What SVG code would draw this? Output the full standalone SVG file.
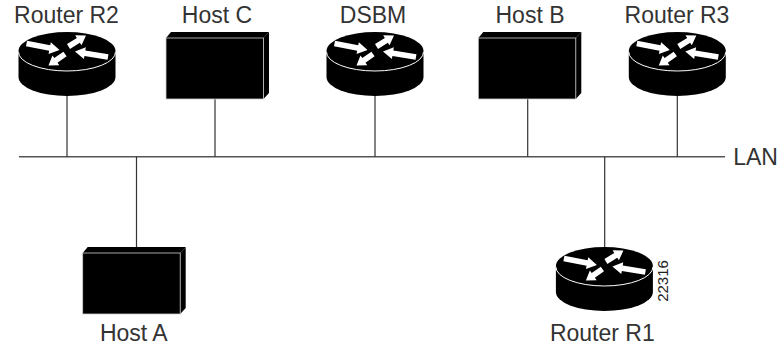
<svg xmlns="http://www.w3.org/2000/svg" width="780" height="345" viewBox="0 0 780 345">
<style>
text{font-family:"Liberation Sans",Arial,sans-serif;font-size:23px;fill:#333;text-anchor:middle}
.c{stroke:#333;stroke-width:1.2;fill:none}
.bus{stroke:#555;stroke-width:1.4;fill:none}
</style>
<defs>
<g id="router">
<path d="M-48.5,1V26A48.5,19 0 0 0 48.5,26V1Z" fill="#000"/>
<ellipse cx="0" cy="0" rx="48.5" ry="19" fill="#000"/>
<path d="M-48.5,1A48.5,19 0 0 0 48.5,1" fill="none" stroke="#fff" stroke-width="1"/>
<g fill="#fff">
<polygon points="-39.97,-10.24 -16.77,-5.64 -16.16,-8.78 -7.5,-1 -18.44,2.98 -17.83,-0.16 -41.03,-4.76"/>
<polygon points="41.46,3.24 18.32,-0.62 18.84,-3.78 8,0.5 16.88,8.06 17.4,4.9 40.54,8.76"/>
<polygon points="2.98,-2.12 12.83,-8.35 14.53,-5.63 19,-15.5 8.17,-15.83 9.87,-13.11 0.02,-6.88"/>
<polygon points="-0.4,5.3 -9.52,11.67 -7.7,14.29 -18.5,14.5 -14.54,4.45 -12.72,7.07 -3.6,0.7"/>
</g>
</g>
<g id="host">
<polygon points="0,6 5,0 103,0 97.5,6" fill="#000"/>
<polygon points="97.5,6 103,0 103,61 97.5,67" fill="#000"/>
<rect x="0" y="6" width="97.5" height="61" fill="#000" stroke="#ccc" stroke-width="0.8"/>
</g>
</defs>
<g id="connectors">
<path class="bus" d="M19,156.7H725"/>
<path class="c" d="M67,96V156.7M215,99V156.7M375,96V156.7M527.7,99V156.7M677.3,96V156.7M136.5,156.7V247M604.7,156.7V247"/>
</g>
<g id="router-r2"><use href="#router" x="67" y="51"/><text x="66.5" y="23.3">Router R2</text></g>
<g id="host-c"><use href="#host" x="166" y="32"/><text x="217" y="23.3">Host C</text></g>
<g id="dsbm"><use href="#router" x="375" y="51"/><text x="373" y="23.3">DSBM</text></g>
<g id="host-b"><use href="#host" x="478.3" y="32"/><text x="530" y="23.3">Host B</text></g>
<g id="router-r3"><use href="#router" x="677.3" y="51"/><text x="677" y="23.3">Router R3</text></g>
<g id="host-a"><use href="#host" x="82.7" y="247"/><text x="133.8" y="340.7">Host A</text></g>
<g id="router-r1"><use href="#router" x="604.4" y="266"/><text x="602.3" y="340.7">Router R1</text></g>
<g id="lan"><text x="755.5" y="165">LAN</text></g>
<text transform="translate(668,281) rotate(-90)" style="font-size:15px;fill:#222">22316</text>
</svg>
